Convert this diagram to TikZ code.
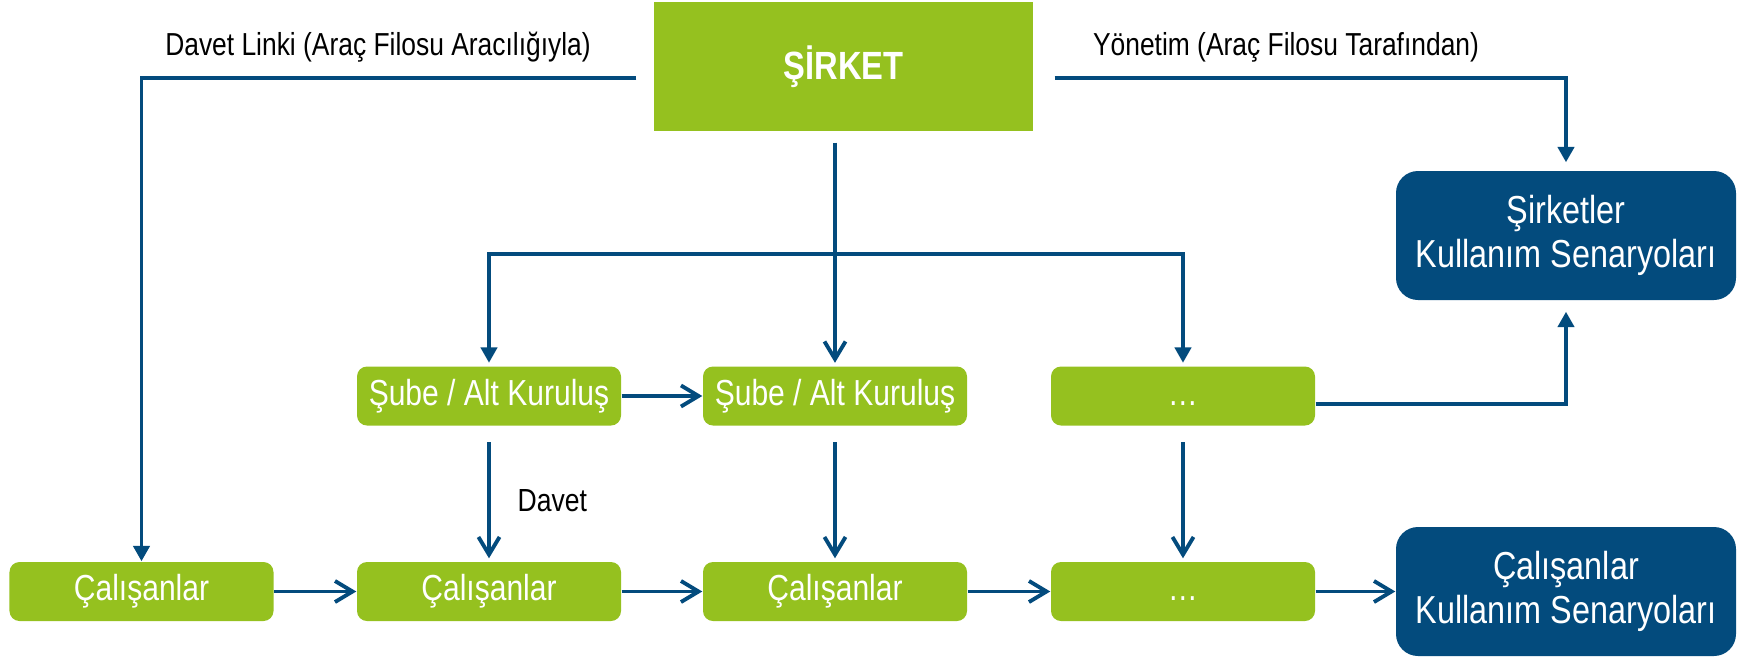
\documentclass[tikz,border=0pt]{standalone}
\usepackage{fontspec}
\setmainfont[FakeStretch=0.83]{Liberation Sans}
\usepackage{xcolor}
\usepackage{tikz}
\usetikzlibrary{arrows.meta,positioning,calc}
\definecolor{leafgreen}{RGB}{149,193,31}
\definecolor{fleetblue}{RGB}{3,75,125}
\newcommand{\lowdots}{\raisebox{-0.9mm}[0pt][0pt]{…}}
\tikzset{
  greenbox/.style={fill=leafgreen, text=white, rounded corners=0.1cm, inner sep=0pt,
    minimum width=2.64cm, minimum height=0.59cm, font=\fontsize{10.3}{12}\selectfont},
  bluebox/.style={fill=fleetblue, text=white, rounded corners=0.22cm, inner sep=0pt, align=center,
    minimum width=3.4cm, minimum height=1.29cm, font=\fontsize{11.1}{12.4}\selectfont},
  toplabel/.style={font=\fontsize{9.05}{10}\selectfont},
  flow/.style={draw=fleetblue, line width=1.1pt},
  tri/.style={flow, -{Triangle[length=4.4pt,width=4.6pt]}},
  barb/.style={flow, -{Straight Barb[length=5pt,width=6pt]}}
}
\begin{document}
\begin{tikzpicture}
\useasboundingbox (0, 0) rectangle (17.43, 6.57);
% top company box
\node[fill=leafgreen, text=white, minimum width=3.79cm, minimum height=1.29cm, inner sep=0pt,
  font=\bfseries\fontsize{11.2}{12}\selectfont] (sirket) at (8.435, 5.905) {ŞİRKET};
\node[toplabel] (davetlinki) at (3.78, 6.10) {Davet Linki (Araç Filosu Aracılığıyla)};
\node[toplabel] (yonetim) at (12.86, 6.10) {Yönetim (Araç Filosu Tarafından)};
% branches
\node[greenbox] (sube1) at (4.89, 2.61) {Şube / Alt Kuruluş};
\node[greenbox] (sube2) at (8.35, 2.61) {Şube / Alt Kuruluş};
\node[greenbox] (dots1) at (11.83, 2.61) {\lowdots};
% employees
\node[greenbox] (cal1) at (1.415, 0.655) {Çalışanlar};
\node[greenbox] (cal2) at (4.89, 0.655) {Çalışanlar};
\node[greenbox] (cal3) at (8.35, 0.655) {Çalışanlar};
\node[greenbox] (dots2) at (11.83, 0.655) {\lowdots};
% use cases
\node[bluebox] (sirketks) at (15.66, 4.215) {Şirketler\\Kullanım Senaryoları};
\node[bluebox] (calks) at (15.66, 0.655) {Çalışanlar\\Kullanım Senaryoları};
\coordinate (junc) at (8.35, 4.03);
% connectors
\draw[tri] ([xshift=-0.17cm, yshift=-0.115cm]sirket.west) -| (cal1.north);
\draw[tri] ([xshift=0.21cm, yshift=-0.115cm]sirket.east) -| ([yshift=0.08cm]sirketks.north);
\draw[barb] ([yshift=-0.11cm]junc |- sirket.south) -- ([yshift=0.03cm]sube2.north);
\draw[tri] (junc) -| ([yshift=0.03cm]sube1.north);
\draw[tri] (junc) -| ([yshift=0.03cm]dots1.north);
\draw[barb] (sube1) -- (sube2);
\draw[barb] ([yshift=-0.16cm]sube1.south) -- ([yshift=0.03cm]cal2.north)
  node[midway, right=0.15cm, font=\fontsize{9.1}{11}\selectfont] (davet) {Davet};
\draw[barb] ([yshift=-0.16cm]sube2.south) -- ([yshift=0.03cm]cal3.north);
\draw[barb] ([yshift=-0.16cm]dots1.south) -- ([yshift=0.03cm]dots2.north);
\draw[tri] ([yshift=-0.08cm]dots1.east) -| ([yshift=-0.11cm]sirketks.south);
\draw[barb] (cal1) -- (cal2);
\draw[barb] (cal2) -- (cal3);
\draw[barb] (cal3) -- (dots2);
\draw[barb] (dots2) -- (calks);
\end{tikzpicture}
\end{document}
